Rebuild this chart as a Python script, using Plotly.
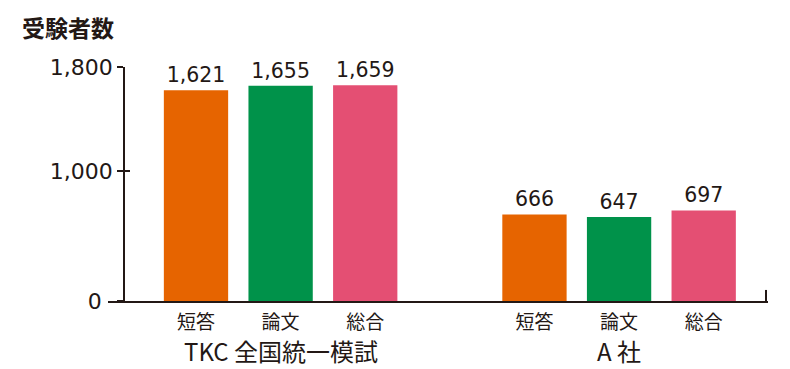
import plotly.graph_objects as go

groups = ["TKC 全国統一模試", "A 社"]
categories = ["短答", "論文", "総合"]
tkc_values = [1621, 1655, 1659]
a_values = [666, 647, 697]
colors = ["#E66400", "#00924A", "#E44F73"]
y_ticks = [0, 1000, 1800]
y_ticktext = ["0\u2002", "1,000", "1,800"]

# slot positions: group 1 at 0,1,2 ; empty slot 3 ; group 2 at 4,5,6
x_pos = [0, 1, 2, 4, 5, 6]
values = tkc_values + a_values
bar_colors = colors + colors
ticktext = categories + categories

FONT = "Noto Sans CJK JP, Noto Sans, sans-serif"
NUMFONT = "DejaVu Sans, Noto Sans, sans-serif"
INK = "#231815"

fig = go.Figure()
fig.add_trace(go.Bar(
    x=x_pos, y=values, width=0.76,
    marker=dict(color=bar_colors, line=dict(width=0)),
    text=[f"{v:,}" for v in values],
    textposition="outside", constraintext="none", cliponaxis=False,
    textfont=dict(family=NUMFONT, size=20.5, color=INK),
    hoverinfo="skip",
))

x_range = [-1.04, 6.76]
yax_pos = (-0.85 - x_range[0]) / (x_range[1] - x_range[0])

fig.update_layout(
    width=790, height=369,
    margin=dict(l=108, r=22, t=67, b=68),
    paper_bgcolor="white", plot_bgcolor="white",
    showlegend=False,
    font=dict(family=FONT, color=INK),
    xaxis=dict(
        range=x_range, domain=[0, 1],
        tickvals=x_pos, ticktext=ticktext,
        tickfont=dict(size=19, color=INK),
        ticklabelstandoff=3,
        showline=True, linecolor=INK, linewidth=2,
        ticks="", showgrid=False, zeroline=False,
        fixedrange=True,
    ),
    yaxis=dict(
        range=[0, 1800], anchor="free", position=yax_pos,
        tickvals=y_ticks, ticktext=y_ticktext,
        tickfont=dict(family=NUMFONT, size=22, color=INK),
        showline=True, linecolor=INK, linewidth=2,
        ticks="outside", ticklen=6, tickwidth=2, tickcolor=INK,
        showgrid=False, zeroline=False, fixedrange=True,
    ),
    yaxis2=dict(
        range=[0, 1800], anchor="free", position=yax_pos, overlaying="y",
        tickvals=y_ticks, showticklabels=False,
        showline=False, ticks="inside", ticklen=5, tickwidth=2, tickcolor=INK,
        showgrid=False, zeroline=False, fixedrange=True,
    ),
)

# invisible trace so the overlay axis is drawn
fig.add_trace(go.Scatter(x=[x_pos[0]], y=[0], yaxis="y2", mode="markers",
                         marker=dict(opacity=0), hoverinfo="skip"))

# group labels
for gi, g in enumerate(groups):
    fig.add_annotation(
        x=x_pos[gi * 3 + 1], y=-0.21, xref="x", yref="paper",
        text=g, showarrow=False, xanchor="center", yanchor="middle",
        font=dict(family=FONT, size=24, color=INK),
    )

# axis title
fig.add_annotation(
    x=-0.134, y=1.171, xref="paper", yref="paper",
    text="<b>受験者数</b>", showarrow=False, xanchor="left", yanchor="middle",
    font=dict(family=FONT, size=23, color=INK),
)

# small end tick at right end of baseline
fig.add_shape(type="line", xref="paper", yref="y", x0=0.997, x1=0.997,
              y0=0, y1=85, line=dict(color=INK, width=2))

fig.write_html("out.html")
